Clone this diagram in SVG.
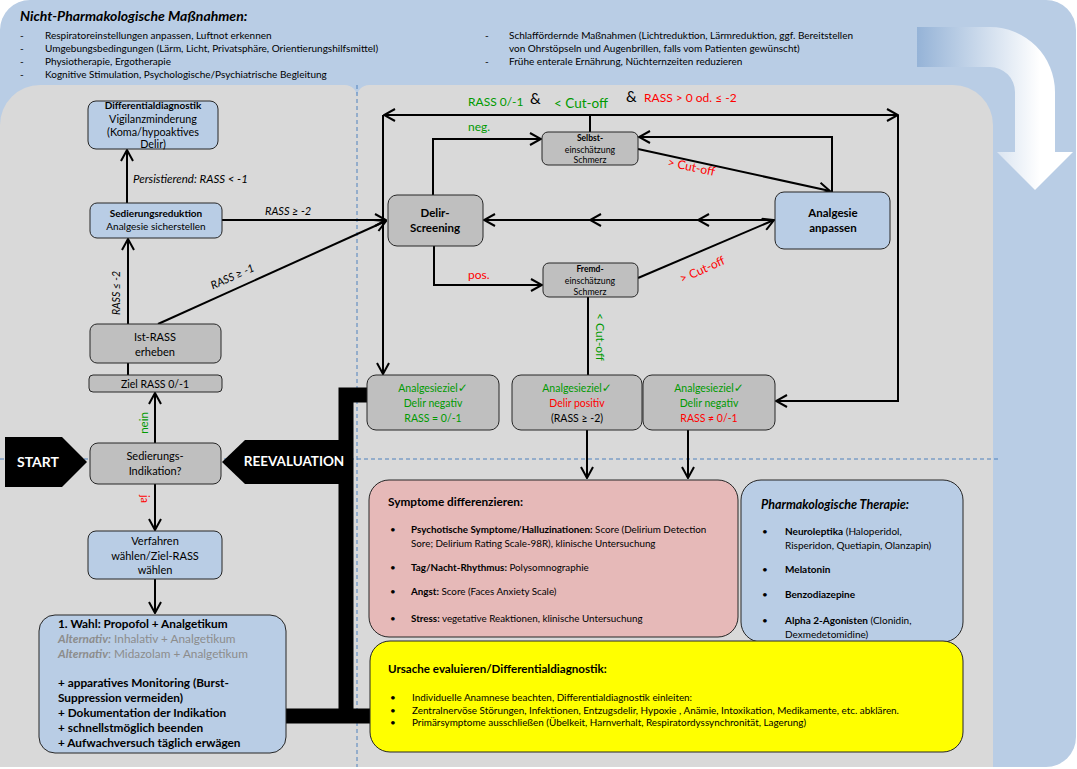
<svg xmlns="http://www.w3.org/2000/svg" width="1077" height="769" viewBox="0 0 1077 769">
<defs>
<style>
text { font-family: Lato, "Liberation Sans", "DejaVu Sans", sans-serif; fill:#000; }
.node { stroke:#262626; stroke-width:1; }
.gray { fill:#bfbfbf; }
.blue { fill:#b9cde5; }
.c { stroke:#000; stroke-width:2; fill:none; }
.a { marker-end:url(#ah); }
.g { fill:#009a00; }
.r { fill:#ff0000; }
.m { text-anchor:middle; }
.b { font-weight:bold; }
.i { font-style:italic; }
.dash { stroke:#4f81bd; stroke-width:1; stroke-dasharray:4 3; fill:none; }
.gt { fill:#8c8c8c; }
.w { fill:#fff; }
.ck { font-family: "DejaVu Sans", sans-serif; font-size:12px; font-weight:bold; fill:#009a00; }
</style>
<marker id="ah" markerUnits="userSpaceOnUse" markerWidth="13" markerHeight="14" viewBox="0 0 13 14" refX="12" refY="7" orient="auto">
<path d="M1,1 L12,7 L1,13" fill="none" stroke="#000" stroke-width="2"/>
</marker>
<linearGradient id="arrowGrad" gradientUnits="userSpaceOnUse" x1="917" y1="0" x2="1040" y2="0">
<stop offset="0" stop-color="#95b3d7"/>
<stop offset="1" stop-color="#ffffff"/>
</linearGradient>
</defs>

<!-- background -->
<rect x="0" y="0" width="1076" height="767" rx="30" fill="#b9cde5"/>
<g id="panels">
<path d="M0,125 A40,40 0 0 1 40,85 L345,85 A12,12 0 0 1 357,97 L357,459 L0,459 Z" fill="#d9d9d9"/>
<path d="M357,97 A12,12 0 0 1 369,85 L953,85 A40,40 0 0 1 993,125 L993,459 L357,459 Z" fill="#d9d9d9"/>
<rect x="0" y="459" width="993" height="308" fill="#d9d9d9"/>
<line class="dash" x1="357" y1="85" x2="357" y2="767"/>
<line class="dash" x1="0" y1="459" x2="1000" y2="459"/>
</g>

<g id="bigArrow">
<path d="M917,27 L990,27 A65,65 0 0 1 1055,92 L1055,152 L1073,152 L1035,190 L997,152 L1015,152 L1015,92 A25,25 0 0 0 990,67 L917,67 Z" fill="url(#arrowGrad)"/>
</g>

<g id="nonPharma">
<text x="20" y="21" class="b i" font-size="14">Nicht-Pharmakologische Maßnahmen:</text>
<g font-size="10">
<text x="20" y="38.5">-</text><text x="45" y="38.5">Respiratoreinstellungen anpassen, Luftnot erkennen</text>
<text x="20" y="51.5">-</text><text x="45" y="51.5">Umgebungsbedingungen (Lärm, Licht, Privatsphäre, Orientierungshilfsmittel)</text>
<text x="20" y="64.5">-</text><text x="45" y="64.5">Physiotherapie, Ergotherapie</text>
<text x="20" y="77.5">-</text><text x="45" y="77.5">Kognitive Stimulation, Psychologische/Psychiatrische Begleitung</text>
<text x="485" y="38.5">-</text><text x="509" y="38.5">Schlaffördernde Maßnahmen (Lichtreduktion, Lärmreduktion, ggf. Bereitstellen</text>
<text x="509" y="51.5">von Ohrstöpseln und Augenbrillen, falls vom Patienten gewünscht)</text>
<text x="485" y="65">-</text><text x="509" y="65">Frühe enterale Ernährung, Nüchternzeiten reduzieren</text>
</g>
</g>

<g id="connectors">
<line class="c a" x1="127" y1="203" x2="127" y2="150"/>
<line class="c a" x1="128" y1="324" x2="128" y2="239"/>
<line class="c a" x1="222" y1="220" x2="386" y2="220"/>
<line class="c a" x1="158" y1="324" x2="386" y2="221"/>
<line class="c" x1="128" y1="363" x2="128" y2="375"/>
<line class="c a" x1="155" y1="443" x2="155" y2="393"/>
<line class="c a" x1="155" y1="484" x2="155" y2="530"/>
<line class="c a" x1="155" y1="579" x2="155" y2="613"/>
<polyline class="c a" points="433,195 433,139 541,139"/>
<polyline class="c a" points="434,246 434,285 542,285"/>
<line class="c" x1="590" y1="132" x2="590" y2="115"/>
<line class="c a" x1="590" y1="115" x2="384" y2="115"/>
<line class="c a" x1="383" y1="115" x2="383" y2="374"/>
<line class="c a" x1="590" y1="115" x2="898" y2="115"/>
<polyline class="c a" points="898,115 898,401 776,401"/>
<line class="c a" x1="638" y1="149" x2="830" y2="191"/>
<polyline class="c a" points="832,192 832,137 639,137"/>
<polyline class="c a" points="775,220 698,220 590,220 484,220" marker-mid="url(#ah)"/>
<line class="c a" x1="638" y1="278" x2="774" y2="220"/>
<line class="c" x1="588" y1="297" x2="588" y2="375"/>
<line class="c a" x1="587" y1="430" x2="587" y2="478"/>
<line class="c a" x1="688" y1="430" x2="688" y2="478"/>
<path d="M368,395 L346,395 L346,716" fill="none" stroke="#000" stroke-width="15"/>
<line x1="285" y1="716" x2="371" y2="716" stroke="#000" stroke-width="15"/>
</g>

<g id="labels">
<text x="133" y="183" class="i" font-size="11.5">Persistierend: RASS &lt; -1</text>
<text x="265" y="215" class="i" font-size="11">RASS ≥ -2</text>
<text transform="translate(120,293) rotate(-90)" class="i m" font-size="10.5">RASS ≤ -2</text>
<text transform="translate(234,280) rotate(-24)" class="i m" font-size="11">RASS ≥ -1</text>
<text transform="translate(148,423) rotate(-90)" class="g m" font-size="11.5">nein</text>
<text transform="translate(141,499) rotate(90)" class="r m" font-size="11">ja</text>
<text x="468" y="106" class="g" font-size="12">RASS 0/-1</text>
<text x="530" y="104" font-size="15">&amp;</text>
<text x="554" y="108" class="g" font-size="13.5">&lt; Cut-off</text>
<text x="626" y="102" font-size="15">&amp;</text>
<text x="644" y="102" class="r" font-size="12">RASS &gt; 0 od. ≤ -2</text>
<text x="468" y="131" class="g" font-size="12">neg.</text>
<text x="468" y="279" class="r" font-size="12">pos.</text>
<text transform="translate(667,166) rotate(12)" class="r" font-size="12">&gt; Cut-off</text>
<text transform="translate(682,283) rotate(-24)" class="r" font-size="12">&gt; Cut-off</text>
<text transform="translate(596,337) rotate(90)" class="g m" font-size="12">&lt; Cut-off</text>
</g>

<g id="start">
<polygon points="5,437 62,437 87,462 62,487 5,487" fill="#000"/>
<text x="38" y="467" class="b m w" font-size="14">START</text>
</g>
<g id="reevaluation">
<polygon points="222,462 245,440 346,440 346,484 245,484" fill="#000"/>
<text x="294" y="466" class="b m w" font-size="13.5">REEVALUATION</text>
</g>

<g id="differentialdiagnostik">
<rect class="node blue" x="88" y="101" width="130" height="48" rx="8"/>
<text x="153" y="109" class="b m" font-size="10">Differentialdiagnostik</text>
<text x="153" y="123" class="m" font-size="10.8">Vigilanzminderung</text>
<text x="153" y="136" class="m" font-size="10.8">(Koma/hypoaktives</text>
<text x="153" y="148" class="m" font-size="10.8">Delir)</text>
</g>
<g id="sedierungsreduktion">
<rect class="node blue" x="90" y="203" width="132" height="35" rx="7"/>
<text x="156" y="216.5" class="b m" font-size="10">Sedierungsreduktion</text>
<text x="156" y="230" class="m" font-size="10">Analgesie sicherstellen</text>
</g>
<g id="istRass">
<rect class="node gray" x="90" y="324" width="131" height="39" rx="7"/>
<text x="155" y="341" class="m" font-size="11">Ist-RASS</text>
<text x="155" y="356" class="m" font-size="11">erheben</text>
</g>
<g id="zielRass">
<rect class="node gray" x="89" y="375" width="133" height="17" rx="4"/>
<text x="155" y="388" class="m" font-size="10.5">Ziel RASS 0/-1</text>
</g>
<g id="sedierungsIndikation">
<rect class="node gray" x="90" y="443" width="131" height="41" rx="8"/>
<text x="155" y="460" class="m" font-size="11">Sedierungs-</text>
<text x="155" y="475" class="m" font-size="11">Indikation?</text>
</g>
<g id="verfahren">
<rect class="node blue" x="88" y="531" width="134" height="48" rx="8"/>
<text x="155" y="545" class="m" font-size="11">Verfahren</text>
<text x="155" y="560" class="m" font-size="11">wählen/Ziel-RASS</text>
<text x="155" y="574" class="m" font-size="11">wählen</text>
</g>
<g id="wahl">
<rect class="node blue" x="39" y="615" width="247" height="138" rx="16"/>
<g font-size="11.8">
<text x="58" y="628" class="b">1. Wahl: Propofol + Analgetikum</text>
<text x="58" y="643" class="gt"><tspan class="b i gt">Alternativ:</tspan> Inhalativ + Analgetikum</text>
<text x="58" y="658" class="gt"><tspan class="b i gt">Alternativ</tspan>: Midazolam + Analgetikum</text>
<text x="58" y="687" class="b">+ apparatives Monitoring (Burst-</text>
<text x="58" y="702" class="b">Suppression vermeiden)</text>
<text x="58" y="717" class="b">+ Dokumentation der Indikation</text>
<text x="58" y="732" class="b">+ schnellstmöglich beenden</text>
<text x="58" y="747" class="b">+ Aufwachversuch täglich erwägen</text>
</g>
</g>

<g id="delirScreening">
<rect class="node gray" x="388" y="195" width="95" height="51" rx="9"/>
<text x="435" y="217" class="b m" font-size="11.5">Delir-</text>
<text x="435" y="232" class="b m" font-size="11.5">Screening</text>
</g>
<g id="selbst">
<rect class="node gray" x="542" y="132" width="96" height="33" rx="6"/>
<text x="590" y="141" class="b m" font-size="8.5">Selbst-</text>
<text x="590" y="152.5" class="m" font-size="8.8">einschätzung</text>
<text x="590" y="163" class="m" font-size="8.8">Schmerz</text>
</g>
<g id="fremd">
<rect class="node gray" x="543" y="263" width="95" height="34" rx="6"/>
<text x="590" y="272" class="b m" font-size="8.5">Fremd-</text>
<text x="590" y="284" class="m" font-size="8.8">einschätzung</text>
<text x="590" y="295" class="m" font-size="8.8">Schmerz</text>
</g>
<g id="analgesieAnpassen">
<rect class="node blue" x="775" y="192" width="115" height="57" rx="9"/>
<text x="833" y="217" class="b m" font-size="11.5">Analgesie</text>
<text x="833" y="232" class="b m" font-size="11.5">anpassen</text>
</g>
<g id="ziel1">
<rect class="node gray" x="367" y="375" width="132" height="55" rx="9"/>
<text x="433" y="392" class="g m" font-size="10.5">Analgesieziel<tspan class="ck">✓</tspan></text>
<text x="433" y="407" class="g m" font-size="10.5">Delir negativ</text>
<text x="433" y="422" class="g m" font-size="10.5">RASS = 0/-1</text>
</g>
<g id="ziel2">
<rect class="node gray" x="512" y="375" width="130" height="55" rx="9"/>
<text x="577" y="392" class="g m" font-size="10.5">Analgesieziel<tspan class="ck">✓</tspan></text>
<text x="577" y="407" class="r m" font-size="10.5">Delir positiv</text>
<text x="577" y="422" class="m" font-size="10.5">(RASS ≥ -2)</text>
</g>
<g id="ziel3">
<rect class="node gray" x="643" y="375" width="132" height="55" rx="9"/>
<text x="709" y="392" class="g m" font-size="10.5">Analgesieziel<tspan class="ck">✓</tspan></text>
<text x="709" y="407" class="g m" font-size="10.5">Delir negativ</text>
<text x="709" y="422" class="r m" font-size="10.5">RASS ≠ 0/-1</text>
</g>

<g id="symptome">
<rect class="node" x="369" y="480" width="369" height="157" rx="20" fill="#e6b9b8"/>
<text x="388" y="506" class="b" font-size="11.8">Symptome differenzieren:</text>
<g font-size="9.8">
<text x="390" y="533">•</text><text x="411" y="533"><tspan class="b">Psychotische Symptome/Halluzinationen:</tspan> Score (Delirium Detection</text>
<text x="411" y="547">Sore; Delirium Rating Scale-98R), klinische Untersuchung</text>
<text x="390" y="571">•</text><text x="411" y="571"><tspan class="b">Tag/Nacht-Rhythmus:</tspan> Polysomnographie</text>
<text x="390" y="595">•</text><text x="411" y="595"><tspan class="b">Angst:</tspan> Score (Faces Anxiety Scale)</text>
<text x="390" y="622">•</text><text x="411" y="622"><tspan class="b">Stress:</tspan> vegetative Reaktionen, klinische Untersuchung</text>
</g>
</g>

<g id="pharma">
<rect class="node blue" x="741" y="480" width="222" height="162" rx="20"/>
<text x="761" y="509" class="b i" font-size="12.5">Pharmakologische Therapie:</text>
<g font-size="10">
<text x="762" y="535">•</text><text x="785" y="535"><tspan class="b">Neuroleptika</tspan> (Haloperidol,</text>
<text x="785" y="549">Risperidon, Quetiapin, Olanzapin)</text>
<text x="762" y="573">•</text><text x="785" y="573" class="b">Melatonin</text>
<text x="762" y="598">•</text><text x="785" y="598" class="b">Benzodiazepine</text>
<text x="762" y="624">•</text><text x="785" y="624"><tspan class="b">Alpha 2-Agonisten</tspan> (Clonidin,</text>
<text x="785" y="637.5">Dexmedetomidine)</text>
</g>
</g>

<g id="ursache">
<rect class="node" x="370" y="641" width="593" height="111" rx="20" fill="#ffff00"/>
<text x="388" y="673" class="b" font-size="11.6">Ursache evaluieren/Differentialdiagnostik:</text>
<g font-size="9.9">
<text x="390" y="701">•</text><text x="412" y="701">Individuelle Anamnese beachten, Differentialdiagnostik einleiten:</text>
<text x="390" y="713.5">•</text><text x="412" y="713.5">Zentralnervöse Störungen, Infektionen, Entzugsdelir, Hypoxie , Anämie, Intoxikation, Medikamente, etc. abklären.</text>
<text x="390" y="726">•</text><text x="412" y="726">Primärsymptome ausschließen (Übelkeit, Harnverhalt, Respiratordyssynchronität, Lagerung)</text>
</g>
</g>
</svg>
